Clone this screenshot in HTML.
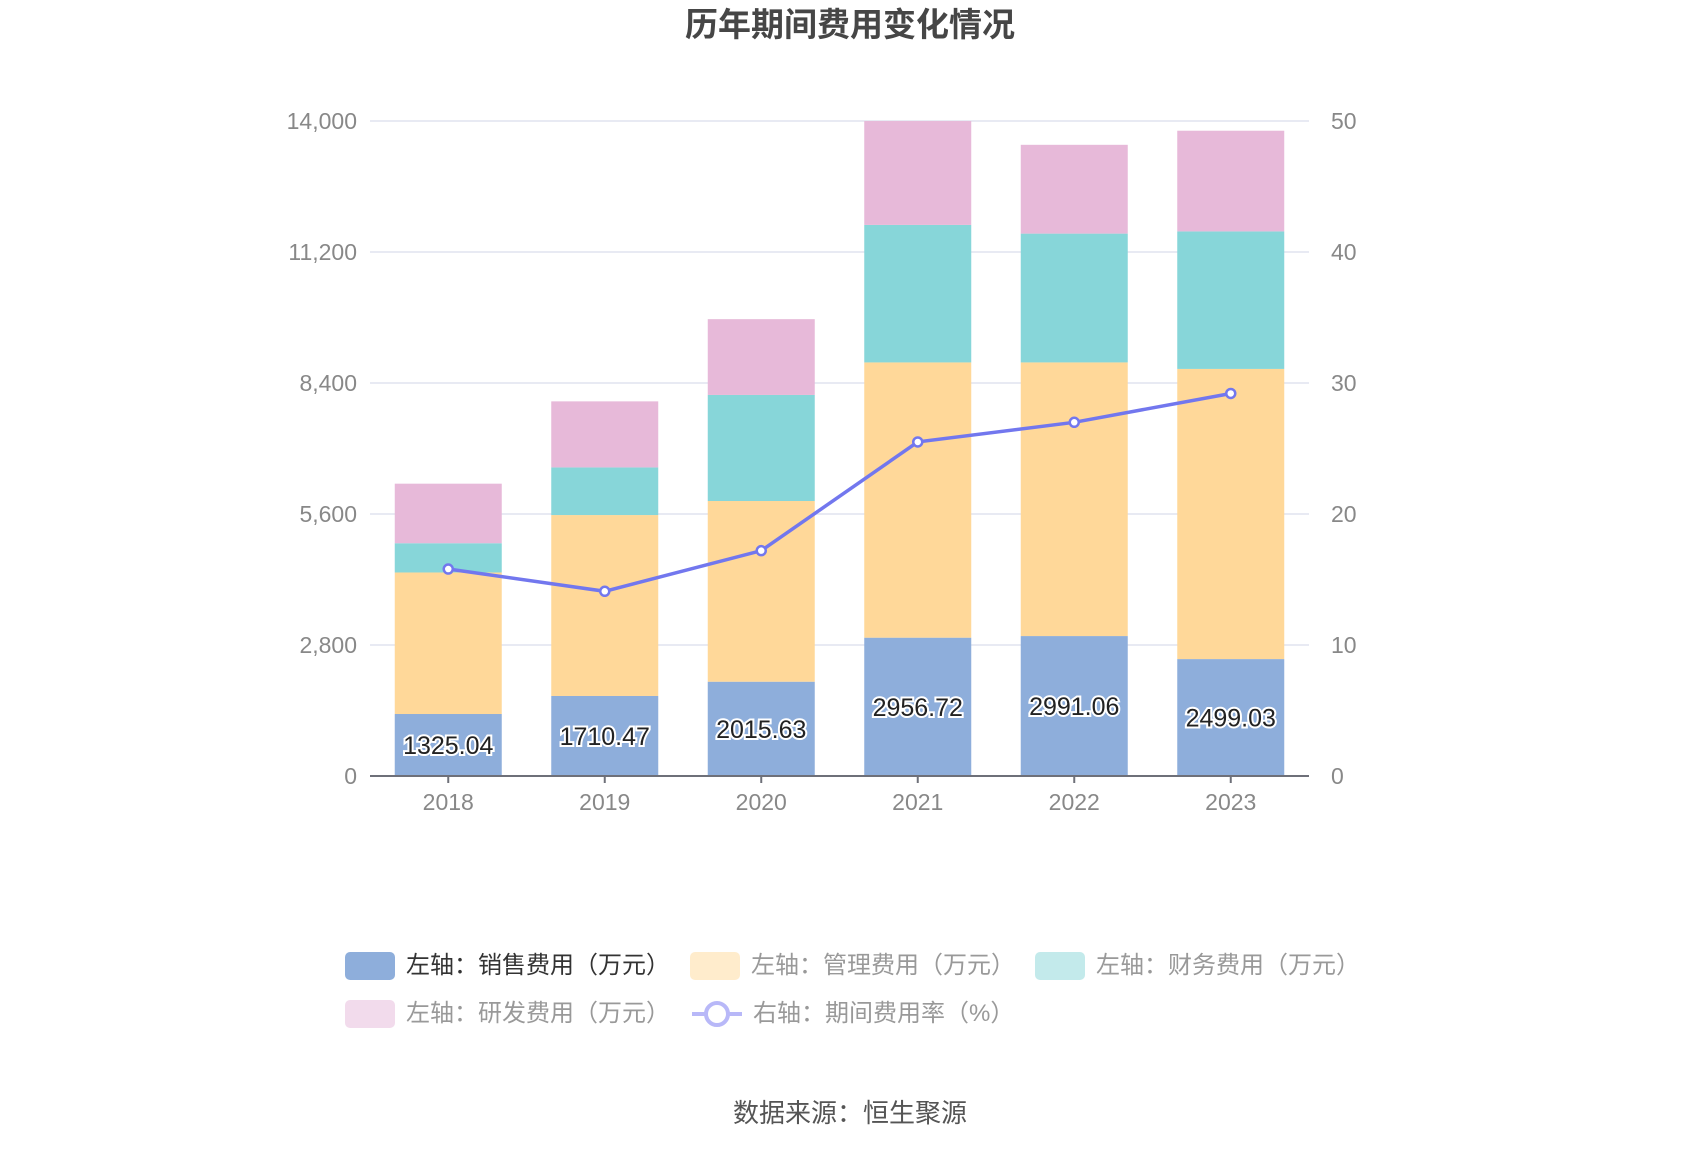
<!DOCTYPE html>
<html><head><meta charset="utf-8"><style>
html,body{margin:0;padding:0;background:#fff;}
body{width:1700px;height:1150px;overflow:hidden;font-family:"Liberation Sans","Noto Sans CJK SC",sans-serif;}
</style></head><body>
<svg id="chart" width="1700" height="1150" xmlns="http://www.w3.org/2000/svg" font-family="'Liberation Sans','Noto Sans CJK SC',sans-serif">
<text x="850" y="36" text-anchor="middle" font-size="33" font-weight="bold" fill="#464646">历年期间费用变化情况</text>
<g id="grid"></g><g id="bars"></g><g id="line"></g><g id="axes"></g><g id="labels"></g>
<g id="legend">
  <g><rect x="345" y="952" width="50" height="28" rx="5" fill="#8eaedb"/><text x="406" y="973" font-size="24" fill="#333">左轴：销售费用（万元）</text></g>
  <g><rect x="690" y="952" width="50" height="28" rx="5" fill="#ffeccc"/><text x="751" y="973" font-size="24" fill="#999">左轴：管理费用（万元）</text></g>
  <g><rect x="1035" y="952" width="50" height="28" rx="5" fill="#c3eaeb"/><text x="1096" y="973" font-size="24" fill="#999">左轴：财务费用（万元）</text></g>
  <g><rect x="345" y="1000" width="50" height="28" rx="5" fill="#f2dbec"/><text x="406" y="1021" font-size="24" fill="#999">左轴：研发费用（万元）</text></g>
  <g><line x1="692" y1="1014" x2="742" y2="1014" stroke="#b8b8f8" stroke-width="4"/><circle cx="717" cy="1014" r="11" fill="#fff" stroke="#b8b8f8" stroke-width="4"/><text x="753" y="1021" font-size="24" fill="#999">右轴：期间费用率（%）</text></g>
</g>
<text x="850" y="1122" text-anchor="middle" font-size="26" fill="#555">数据来源：恒生聚源</text>
</svg>
<script>
const years=["2018","2019","2020","2021","2022","2023"];
const sales=[1325.04,1710.47,2015.63,2956.72,2991.06,2499.03];
const mgmt=[3025,3867,3862,5883,5849,6202];
const fin=[625,1018,2267,2939,2753,2939];
const rd=[1273,1412,1620,2221,1898,2152];
const rate=[15.8,14.1,17.2,25.5,27.0,29.2];
const leftTicks=[0,2800,5600,8400,11200,14000];
const rightTicks=[0,10,20,30,40,50];
const NS="http://www.w3.org/2000/svg";
const x0=370,x1=1309,y0=776,yTop=121;
const yL=v=>y0-(v/14000)*(y0-yTop);
const yR=v=>y0-(v/50)*(y0-yTop);
const band=(x1-x0)/years.length;
const xC=i=>x0+band*(i+0.5);
function mk(tag,attrs,parent){const e=document.createElementNS(NS,tag);for(const k in attrs)e.setAttribute(k,attrs[k]);document.getElementById(parent).appendChild(e);return e;}
const fmt=v=>v.toLocaleString("en-US");
leftTicks.forEach((t,i)=>{
  if(t>0){const g=mk("line",{x1:x0,x2:x1,y1:yL(t),y2:yL(t),stroke:"#e0e3ef","stroke-width":1.5},"grid");
  
  }
  const l=mk("text",{x:357,y:yL(t)+8,"text-anchor":"end","font-size":23,fill:"#888"},"axes");
  l.textContent=fmt(t);
  
  
});
rightTicks.forEach(t=>{
  const l=mk("text",{x:1331,y:yR(t)+8,"font-size":23,fill:"#888"},"axes");
  l.textContent=t;
  
  
});
const series=[[sales,"#8eaedb","bar-sales"],[mgmt,"#ffd899","bar-management"],[fin,"#87d6d9","bar-finance"],[rd,"#e7b9d9","bar-rd"]];
const bw=107;
years.forEach((yr,i)=>{
  let base=0;
  series.forEach(([arr,col,name])=>{
    const r=mk("rect",{x:xC(i)-bw/2,y:yL(base+arr[i]),width:bw,height:yL(base)-yL(base+arr[i]),fill:col},"bars");
    
    
    base+=arr[i];
  });
  const lab=mk("text",{x:xC(i),y:(yL(0)+yL(sales[i]))/2+9,"text-anchor":"middle","font-size":25,fill:"#222",stroke:"#fff","stroke-width":4,"paint-order":"stroke"},"labels");
  lab.textContent=sales[i].toFixed(2);
  
  
  const tk=mk("line",{x1:xC(i),x2:xC(i),y1:y0,y2:y0+7,stroke:"#6e7079","stroke-width":2},"axes");
  
  
  const xl=mk("text",{x:xC(i),y:y0+34,"text-anchor":"middle","font-size":23,fill:"#888"},"axes");
  xl.textContent=yr;
  
  
});
const ax=mk("line",{x1:x0,x2:x1,y1:y0,y2:y0,stroke:"#6e7079","stroke-width":2},"axes");


const pl=mk("polyline",{points:rate.map((v,i)=>xC(i)+","+yR(v)).join(" "),fill:"none",stroke:"#7277ee","stroke-width":3.5},"line");


rate.forEach((v,i)=>{
  const c=mk("circle",{cx:xC(i),cy:yR(v),r:4.5,fill:"#fff",stroke:"#7277ee","stroke-width":2.5},"line");
  
  
});
</script>
</body></html>
